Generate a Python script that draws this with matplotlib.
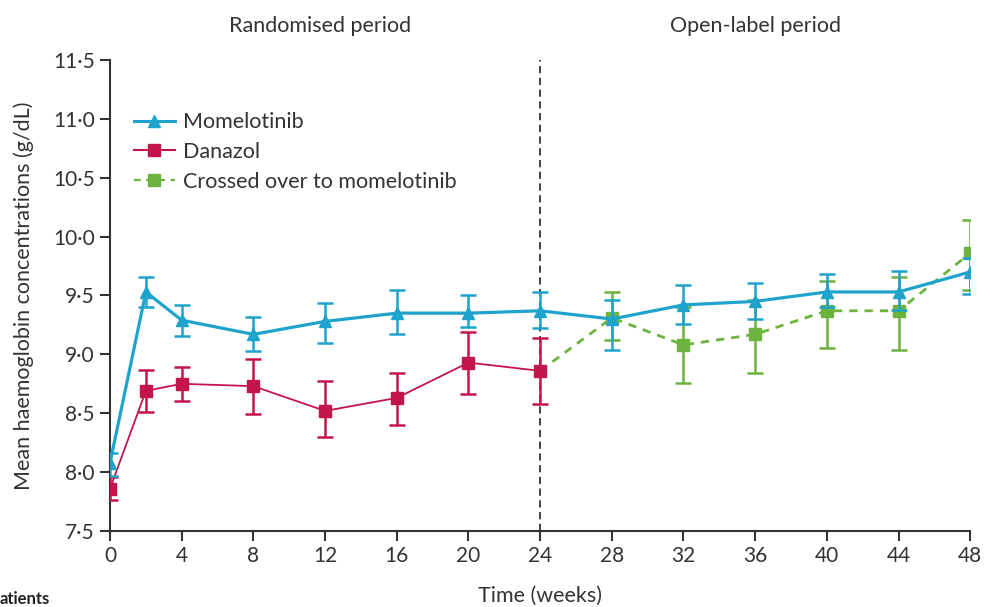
import matplotlib
matplotlib.use("Agg")
import matplotlib.pyplot as plt
from matplotlib.ticker import FixedLocator, FuncFormatter

plt.rcParams["font.family"] = ["Lato", "DejaVu Sans"]

# weeks
weeks = [0, 2, 4, 8, 12, 16, 20, 24, 28, 32, 36, 40, 44, 48]
mom_mean = [8.08, 9.53, 9.29, 9.17, 9.28, 9.35, 9.35, 9.37, 9.30, 9.42, 9.45, 9.53, 9.53, 9.70]
mom_lo = [7.97, 9.40, 9.155, 9.03, 9.10, 9.17, 9.23, 9.22, 9.04, 9.26, 9.30, 9.40, 9.38, 9.51]
mom_hi = [8.16, 9.66, 9.42, 9.32, 9.44, 9.55, 9.50, 9.53, 9.46, 9.59, 9.61, 9.68, 9.71, 9.82]

dan_weeks = [0, 2, 4, 8, 12, 16, 20, 24]
dan_mean = [7.86, 8.69, 8.75, 8.73, 8.52, 8.63, 8.93, 8.86]
dan_lo = [7.76, 8.51, 8.60, 8.49, 8.30, 8.40, 8.66, 8.58]
dan_hi = [7.96, 8.87, 8.89, 8.96, 8.77, 8.84, 9.19, 9.14]

cross_weeks = [28, 32, 36, 40, 44, 48]
cross_mean = [9.31, 9.08, 9.17, 9.37, 9.37, 9.86]
cross_lo = [9.12, 8.76, 8.84, 9.05, 9.04, 9.55]
cross_hi = [9.53, 9.40, 9.46, 9.62, 9.66, 10.14]

x_ticks = [0, 4, 8, 12, 16, 20, 24, 28, 32, 36, 40, 44, 48]
y_ticks = [7.5, 8.0, 8.5, 9.0, 9.5, 10.0, 10.5, 11.0, 11.5]

BLUE = "#1ea3cc"
RED = "#c4154b"
GREEN = "#6cb33f"
AXC = "#333333"
TXT = "#333333"

fig = plt.figure(figsize=(9.87, 6.07), dpi=100)
ax = fig.add_axes([0.1115, 0.1252, 0.8715, 0.776])

def yerr(m, lo, hi):
    return [[a - b for a, b in zip(m, lo)], [c - a for a, c in zip(m, hi)]]

# crossover line starts from the danazol week-24 value
ax.plot([dan_weeks[-1]] + cross_weeks, [dan_mean[-1]] + cross_mean,
        color=GREEN, lw=2, ls=(0, (3, 2.5)), zorder=2)
ax.errorbar(cross_weeks, cross_mean, yerr=yerr(cross_mean, cross_lo, cross_hi),
            color=GREEN, ls="none", marker="s", ms=9, elinewidth=1.8,
            capsize=6, capthick=1.8, zorder=3)

ax.errorbar(dan_weeks, dan_mean, yerr=yerr(dan_mean, dan_lo, dan_hi),
            color=RED, lw=1.3, marker="s", ms=9, elinewidth=1.8,
            capsize=6, capthick=1.8, zorder=4)

ax.errorbar(weeks, mom_mean, yerr=yerr(mom_mean, mom_lo, mom_hi),
            color=BLUE, lw=2.3, marker="^", ms=8, elinewidth=1.8,
            capsize=6, capthick=1.8, zorder=5)

ax.axvline(24, ymin=0, ymax=1, color=AXC, lw=1.3, ls=(0, (4, 2.5)), zorder=1)

# legend handles
ax.plot([], [], color=BLUE, lw=2.2, marker="^", ms=8, label="Momelotinib")
ax.plot([], [], color=RED, lw=1.5, marker="s", ms=9, label="Danazol")
ax.plot([], [], color=GREEN, lw=1.6, ls=(0, (3, 2.5)), marker="s", ms=9,
        label="Crossed over to momelotinib")
handles, labels = ax.get_legend_handles_labels()
leg = ax.legend(handles[-3:], labels[-3:], loc="upper left",
                bbox_to_anchor=(0.005, 0.93), frameon=False, fontsize=15.5,
                handlelength=1.9, handletextpad=0.4, labelspacing=0.45,
                labelcolor=TXT)

ax.set_xlim(0, 48)
ax.set_ylim(7.5, 11.5)
ax.xaxis.set_major_locator(FixedLocator(x_ticks))
ax.yaxis.set_major_locator(FixedLocator(y_ticks))
ax.yaxis.set_major_formatter(FuncFormatter(lambda v, p: f"{v:.1f}".replace(".", "\u00b7")))

for s in ["top", "right"]:
    ax.spines[s].set_visible(False)
for s in ["left", "bottom"]:
    ax.spines[s].set_color(AXC)
    ax.spines[s].set_linewidth(1.5)
ax.tick_params(direction="out", length=7, width=1.5, color=AXC,
               labelsize=15, labelcolor=TXT, pad=4)

ax.set_xlabel("Time (weeks)", fontsize=15.5, color=TXT, labelpad=14)
ax.set_ylabel("Mean haemoglobin concentrations (g/dL)", fontsize=15.5,
              color=TXT, labelpad=14)

fig.text(0.324, 0.957, "Randomised period", ha="center", va="center",
         fontsize=15.5, color=TXT)
fig.text(0.765, 0.957, "Open-label period", ha="center", va="center",
         fontsize=15.5, color=TXT)
fig.text(0.0, 0.0, "atients", ha="left", va="bottom", fontsize=12,
         fontweight="bold", color="#222222")

fig.savefig("out.png", dpi=100)
